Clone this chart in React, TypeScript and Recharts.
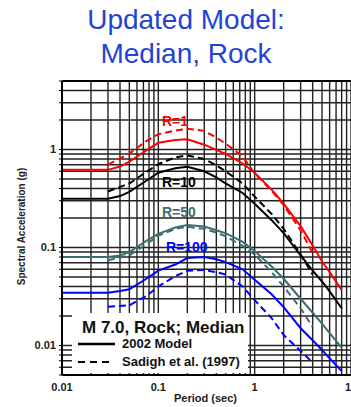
import React from 'react';
import { LineChart, Line, XAxis, YAxis, CartesianGrid, ReferenceLine } from 'recharts';

const FONT = '"Liberation Sans", Arial, Helvetica, sans-serif';

const periods2002 = [0.01, 0.02, 0.03, 0.04, 0.05, 0.075, 0.1, 0.15, 0.2, 0.3, 0.4, 0.5, 0.75, 1, 1.5, 2, 3, 4, 5, 6, 8];
const periodsSadigh = [0.03, 0.05, 0.075, 0.1, 0.15, 0.2, 0.3, 0.4, 0.5, 0.75, 1, 1.5, 2, 3, 4];

const r1Model = [0.62, 0.62, 0.62, 0.67, 0.75, 0.98, 1.17, 1.25, 1.27, 1.12, 0.99, 0.9, 0.72, 0.58, 0.39, 0.28, 0.165, 0.105, 0.072, 0.056, 0.037];
const r1Sadigh = [0.7, 0.91, 1.22, 1.43, 1.56, 1.63, 1.55, 1.32, 1.15, 0.85, 0.57, 0.38, 0.27, 0.15, 0.088];

const r10Model = [0.315, 0.315, 0.315, 0.335, 0.37, 0.48, 0.58, 0.645, 0.665, 0.6, 0.52, 0.45, 0.36, 0.28, 0.19, 0.14, 0.083, 0.058, 0.045, 0.0356, 0.024];
const r10Sadigh = [0.373, 0.45, 0.59, 0.71, 0.83, 0.87, 0.8, 0.69, 0.6, 0.45, 0.33, 0.22, 0.155, 0.085, 0.053];

const r50Model = [0.08, 0.08, 0.08, 0.083, 0.09, 0.117, 0.138, 0.16, 0.17, 0.164, 0.15, 0.14, 0.114, 0.092, 0.064, 0.048, 0.03, 0.0216, 0.0167, 0.0134, 0.0095];
const r50Sadigh = [0.074, 0.083, 0.108, 0.132, 0.155, 0.163, 0.155, 0.142, 0.13, 0.104, 0.085, 0.056, 0.04, 0.024, 0.0155];

const r100Model = [0.0346, 0.0346, 0.0346, 0.036, 0.0375, 0.048, 0.058, 0.067, 0.078, 0.08, 0.076, 0.071, 0.06, 0.047, 0.0333, 0.0246, 0.015, 0.0113, 0.009, 0.0074, 0.0055];
const r100Sadigh = [0.0248, 0.0257, 0.032, 0.04, 0.051, 0.058, 0.059, 0.056, 0.053, 0.04, 0.029, 0.019, 0.0128, 0.0088, 0.0067];

const xTicks = [0.01, 0.02, 0.03, 0.04, 0.05, 0.06, 0.07, 0.08, 0.09, 0.1, 0.2, 0.3, 0.4, 0.5, 0.6, 0.7, 0.8, 0.9, 1, 2, 3, 4, 5, 6, 7, 8, 9, 10];
const xLabels = ['0.01', '0.1', '1', '10'];
const yTicks = [0.005, 0.006, 0.007, 0.008, 0.009, 0.01, 0.02, 0.03, 0.04, 0.05, 0.06, 0.07, 0.08, 0.09, 0.1, 0.2, 0.3, 0.4, 0.5, 0.6, 0.7, 0.8, 0.9, 1, 2, 3, 4, 5];
const yLabels = ['0.01', '0.1', '1'];

const RED = '#ff0000';
const BLACK = '#000000';
const TEAL = '#3e6e6e';
const BLUE = '#0000ff';

const mk = (ts: number[], vs: number[]) => ts.map((t, i) => ({ t, v: vs[i] }));

const series = [
  { key: 'r1m', data: mk(periods2002, r1Model), color: RED, dash: undefined },
  { key: 'r1s', data: mk(periodsSadigh, r1Sadigh), color: RED, dash: '7 4' },
  { key: 'r10m', data: mk(periods2002, r10Model), color: BLACK, dash: undefined },
  { key: 'r10s', data: mk(periodsSadigh, r10Sadigh), color: BLACK, dash: '7 4' },
  { key: 'r50m', data: mk(periods2002, r50Model), color: TEAL, dash: undefined },
  { key: 'r50s', data: mk(periodsSadigh, r50Sadigh), color: TEAL, dash: '7 4' },
  { key: 'r100m', data: mk(periods2002, r100Model), color: BLUE, dash: undefined },
  { key: 'r100s', data: mk(periodsSadigh, r100Sadigh), color: BLUE, dash: '7 4' },
];

const fmt = (v: number) => String(Number(v.toPrecision(3)));

const XTick = (props: any) => {
  const { x, y, payload } = props;
  const s = fmt(payload.value);
  if (!xLabels.includes(s)) return null;
  return (
    <text x={x} y={y + 10} textAnchor="middle" fontFamily={FONT} fontWeight="bold" fontSize={11} fill="#222">
      {s}
    </text>
  );
};

const YTick = (props: any) => {
  const { y, payload } = props;
  const s = fmt(payload.value);
  if (!yLabels.includes(s)) return null;
  return (
    <text x={56} y={y + 4} textAnchor="end" fontFamily={FONT} fontWeight="bold" fontSize={11} fill="#222">
      {s}
    </text>
  );
};

export default function App() {
  return (
    <div style={{ position: 'absolute', left: 0, top: 0, width: 351, height: 407, background: '#fff', overflow: 'hidden' }}>
      <LineChart width={351} height={407} margin={{ top: 81, right: 0, bottom: 0, left: 0 }}>
        <CartesianGrid stroke="#222" strokeWidth={1.4} />
        <XAxis
          dataKey="t"
          type="number"
          scale="log"
          domain={[0.01, 10]}
          ticks={xTicks}
          interval={0}
          allowDataOverflow
          height={32}
          tickLine={false}
          tickSize={4}
          tickMargin={2}
          axisLine={{ stroke: '#000', strokeWidth: 2 }}
          tick={<XTick />}
        />
        <YAxis
          type="number"
          scale="log"
          domain={[0.005, 5]}
          ticks={yTicks}
          interval={0}
          allowDataOverflow
          width={62}
          tickSize={3}
          tickLine={{ stroke: '#000' }}
          axisLine={{ stroke: '#000', strokeWidth: 2 }}
          tick={<YTick />}
        />
        <ReferenceLine y={5} stroke="#000" strokeWidth={2} />
        {series.map((s) => (
          <Line
            key={s.key}
            data={s.data}
            dataKey="v"
            type="linear"
            stroke={s.color}
            strokeWidth={2}
            strokeDasharray={s.dash}
            dot={false}
            activeDot={false}
            isAnimationActive={false}
          />
        ))}
      </LineChart>
      <svg width={351} height={407} style={{ position: 'absolute', left: 0, top: 0, pointerEvents: 'none' }} fontFamily={FONT}>
        <text x={186} y={29} textAnchor="middle" fontSize={28} fill="#1f45d3">Updated Model:</text>
        <text x={186} y={63} textAnchor="middle" fontSize={28} fill="#1f45d3">Median, Rock</text>
        <text transform="translate(25,226.5) rotate(-90)" textAnchor="middle" fontSize={10} fontWeight="bold" fill="#222">Spectral Acceleration (g)</text>
        <text x={205.5} y={402} textAnchor="middle" fontSize={11} fontWeight="bold" fill="#222">Period (sec)</text>
        <text x={162} y={126} fontSize={14} fontWeight="bold" fill={RED}>R=1</text>
        <text x={162} y={187} fontSize={14} fontWeight="bold" fill={BLACK}>R=10</text>
        <text x={162} y={217} fontSize={14} fontWeight="bold" fill={TEAL}>R=50</text>
        <text x={166} y={252} fontSize={14} fontWeight="bold" fill={BLUE}>R=100</text>
        <rect x={72} y={313} width={176} height={60} fill="#fff" />
        <text x={82} y={333} fontSize={17} fontWeight="bold" fill="#111">M 7.0, Rock; Median</text>
        <line x1={78} y1={344} x2={115} y2={344} stroke="#000" strokeWidth={2.5} />
        <text x={122} y={348} fontSize={13} fontWeight="bold" fill="#111">2002 Model</text>
        <line x1={78} y1={362} x2={112} y2={362} stroke="#000" strokeWidth={2} strokeDasharray="7 5" />
        <text x={122} y={366} fontSize={13} fontWeight="bold" fill="#111">Sadigh et al. (1997)</text>
      </svg>
    </div>
  );
}
